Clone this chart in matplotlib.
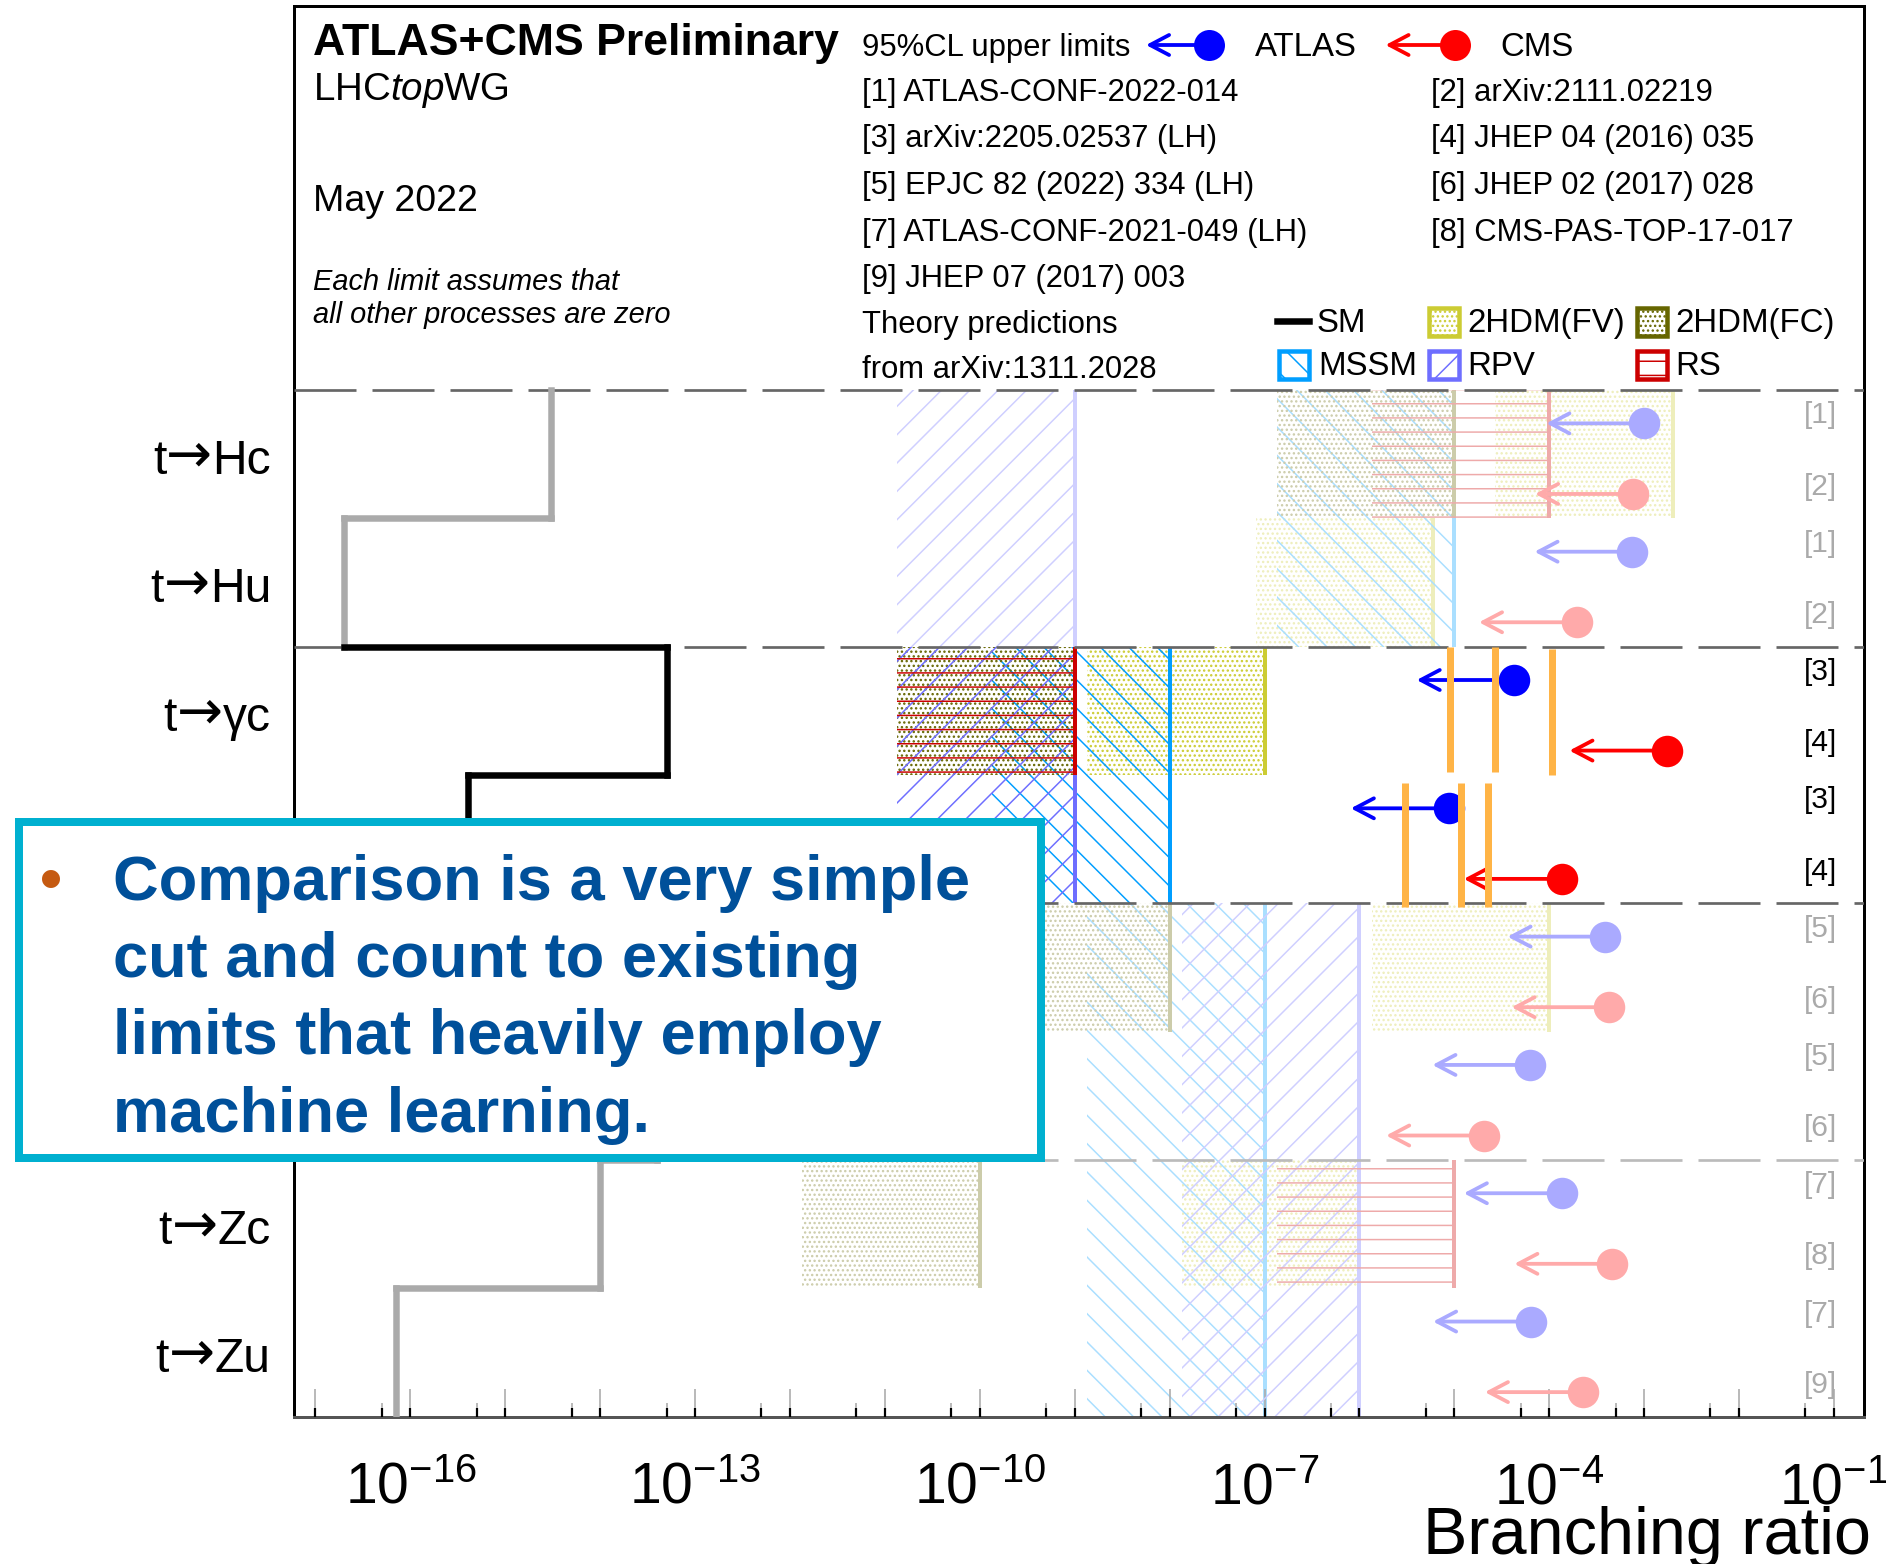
import numpy as np
import matplotlib
matplotlib.use("Agg")
import matplotlib.pyplot as plt
from matplotlib.patches import Rectangle, FancyArrowPatch, ArrowStyle
from matplotlib.lines import Line2D
from matplotlib.colors import to_rgb

# ---------------- data ----------------
processes = ["t→Hc", "t→Hu", "t→γc", "t→γu", "t→gc", "t→gu", "t→Zc", "t→Zu"]
highlighted = [False, False, True, True, False, False, False, False]
# labels of t->gamma u, t->gc, t->gu lie under the callout box in the reference
label_visible = [True, True, True, False, False, False, True, True]
sm_br = [3e-15, 2e-17, 5e-14, 4e-16, 5e-12, 4e-14, 1e-14, 7e-17]

atlas_limit = [1.0e-3, 7.5e-4, 4.3e-5, 8.7e-6, 3.9e-4, 6.3e-5, 1.35e-4, 6.4e-5]
cms_limit = [7.6e-4, 1.95e-4, 1.75e-3, 1.35e-4, 4.3e-4, 2.05e-5, 4.6e-4, 2.25e-4]
atlas_ref = ["[1]", "[1]", "[3]", "[3]", "[5]", "[5]", "[7]", "[7]"]
cms_ref = ["[2]", "[2]", "[4]", "[4]", "[6]", "[6]", "[8]", "[9]"]

# theory predictions (arXiv:1311.2028): first row, number of rows, upper BR
fv_row, fv_nrow, fv_br = [0, 1, 2, 4, 6], [1, 1, 1, 1, 1], [2e-3, 6e-6, 1e-7, 1e-4, 1e-6]
fc_row, fc_nrow, fc_br = [0, 2, 4, 6], [1, 1, 1, 1], [1e-5, 1e-9, 1e-8, 1e-10]
mssm_row, mssm_nrow, mssm_br = [0, 2, 4, 6], [2, 2, 2, 2], [1e-5, 1e-8, 1e-7, 1e-7]
rpv_row, rpv_nrow, rpv_br = [0, 2, 4, 6], [2, 2, 2, 2], [1e-9, 1e-9, 1e-6, 1e-6]
rs_row, rs_nrow, rs_br = [0, 2, 4, 6], [1, 1, 1, 1], [1e-4, 1e-9, 1e-10, 1e-5]

# overlaid (orange) lines in the t->gamma q rows
orange_row = [2, 2, 2, 3, 3, 3]
orange_br = [9.1e-6, 2.7e-5, 1.06e-4, 3.0e-6, 1.18e-5, 2.25e-5]
orange_span = [(0.0, 0.98), (0.0, 0.98), (0.02, 1.0), (0.06, 1.03), (0.06, 1.03), (0.06, 1.03)]

tick_exponents = list(range(-17, 0))
minor_exponents = list(range(-17, -1))
label_exponents = [-16, -13, -10, -7, -4, -1]

references_left = ["[1] ATLAS-CONF-2022-014", "[3] arXiv:2205.02537 (LH)",
                   "[5] EPJC 82 (2022) 334 (LH)", "[7] ATLAS-CONF-2021-049 (LH)",
                   "[9] JHEP 07 (2017) 003"]
references_right = ["[2] arXiv:2111.02219", "[4] JHEP 04 (2016) 035",
                    "[6] JHEP 02 (2017) 028", "[8] CMS-PAS-TOP-17-017"]
callout_lines = ["Comparison is a very simple", "cut and count to existing",
                 "limits that heavily employ", "machine learning."]

# ---------------- style ----------------
W, H = 1886, 1565
DPI = 85


def P(px):
    return px * 72.0 / DPI


plt.rcParams['font.family'] = ['Liberation Sans', 'DejaVu Sans']
plt.rcParams['mathtext.fontset'] = 'custom'
plt.rcParams['mathtext.rm'] = 'Liberation Sans'
plt.rcParams['mathtext.it'] = 'Liberation Sans:italic'
plt.rcParams['mathtext.bf'] = 'Liberation Sans:bold'
plt.rcParams['hatch.linewidth'] = P(1.5)

C_FV, C_FC, C_MSSM, C_RPV, C_RS = '#CCCC33', '#666600', '#009EFF', '#6E6EFF', '#CC0000'
C_ATLAS, C_CMS = '#0000FF', '#FF0000'
C_ORANGE = '#FFB446'


def fade(c, on):
    if on:
        return c
    r = np.array(to_rgb(c))
    return tuple(1 - (1 - r) / 3.0)


fig = plt.figure(figsize=(W / DPI, H / DPI), dpi=DPI)
ax = fig.add_axes([294 / W, 1 - 1417.5 / H, (1864 - 294) / W, (1417.5 - 7) / H])
ax.set_xscale('log')
ax.set_xlim(10 ** -17.2265, 10 ** -0.683)
ax.set_ylim(8, -2.993)
ax.set_yticks([])

BOX_DECADES = 1.87
ARROW_DECADES = 1.03


def draw_model(rows, nrows, brs, color, hatch, z):
    for r, n, up in zip(rows, nrows, brs):
        c = fade(color, highlighted[r])
        lo = up / 10 ** BOX_DECADES
        ax.add_patch(Rectangle((lo, r), up - lo, n, facecolor='none', edgecolor=c,
                               lw=0, hatch=hatch, zorder=z))
        ax.plot([up, up], [r, r + n], color=c, lw=P(4), solid_capstyle='butt', zorder=z + 0.1)


draw_model(fv_row, fv_nrow, fv_br, C_FV, '...', 1.0)
draw_model(mssm_row, mssm_nrow, mssm_br, C_MSSM, '\\', 1.2)
draw_model(fc_row, fc_nrow, fc_br, C_FC, '...', 1.4)
draw_model(rpv_row, rpv_nrow, rpv_br, C_RPV, '/', 1.6)
draw_model(rs_row, rs_nrow, rs_br, C_RS, '-', 1.8)

# separators
for yb, col in zip([0, 2, 4, 6], ['#666666', '#666666', '#666666', '#BBBBBB']):
    ax.axhline(yb, color=col, lw=P(2.7), ls=(0, (62 / 2.7, 16 / 2.7)), zorder=3)

# SM step line
for i, v in enumerate(sm_br):
    c = 'black' if highlighted[i] else '#AAAAAA'
    ax.plot([v, v], [i, i + 1], color=c, lw=P(6.5), solid_capstyle='projecting', zorder=4)
    if i + 1 < len(sm_br):
        c2 = 'black' if highlighted[i + 1] else '#AAAAAA'
        ax.plot([v, sm_br[i + 1]], [i + 1, i + 1], color=c2, lw=P(6.5),
                solid_capstyle='projecting', zorder=4)

# limits
arrow_style = ArrowStyle('->', head_length=P(19), head_width=P(10))


def limit(val, y, color):
    tip = val / 10 ** ARROW_DECADES
    ax.add_patch(FancyArrowPatch((val, y), (tip, y), arrowstyle=arrow_style, mutation_scale=1,
                                 lw=P(3.8), color=color, shrinkA=0, shrinkB=0, zorder=6))
    ax.plot([val], [y], 'o', ms=P(31.5), color=color, mec=color, mew=0, zorder=7)


for i in range(len(processes)):
    on = highlighted[i]
    limit(atlas_limit[i], i + 0.26, fade(C_ATLAS, on))
    limit(cms_limit[i], i + 0.81, fade(C_CMS, on))
    lc = 'black' if on else '#AAAAAA'
    for ref, dy in ((atlas_ref[i], 0.19), (cms_ref[i], 0.745)):
        ax.annotate(ref, xy=(1, i + dy), xycoords=('axes fraction', 'data'),
                    xytext=(P(-27), 0), textcoords='offset points', ha='right', va='center',
                    fontsize=P(30), color=lc)

for r, v, (t0, t1) in zip(orange_row, orange_br, orange_span):
    ax.plot([v, v], [r + t0, r + t1], color=C_ORANGE, lw=P(7), solid_capstyle='butt', zorder=8)

# axes / ticks
for s in ax.spines.values():
    s.set_linewidth(P(3))
    s.set_color('black')
ax.spines['bottom'].set_color('#555555')
ax.set_xticks([10.0 ** e for e in tick_exponents])
ax.set_xticklabels([r'$\mathregular{10^{%d}}$' % e if e in label_exponents else ''
                    for e in tick_exponents])
ax.set_xticks([5 * 10.0 ** e for e in minor_exponents], minor=True)
ax.tick_params(axis='x', which='major', direction='in', length=P(28), width=P(1.6),
               color='#AAAAAA', labelsize=P(57), pad=P(44), top=False)
ax.tick_params(axis='x', which='minor', direction='in', length=P(14), width=P(1.6),
               color='#AAAAAA', labelbottom=False, top=False)
ax.tick_params(axis='y', which='both', left=False, right=False)

ax2 = ax.twiny()
ax2.set_xscale('log')
ax2.set_xlim(ax.get_xlim())
ax2.xaxis.set_ticks_position('bottom')
ax2.set_xticks([10.0 ** e for e in tick_exponents])
ax2.set_xticks([5 * 10.0 ** e for e in minor_exponents], minor=True)
ax2.tick_params(axis='x', which='both', direction='in', length=P(9), width=P(2.2), color='black',
                labelbottom=False, labeltop=False, top=False, bottom=True)
for s in ax2.spines.values():
    s.set_visible(False)

# process labels: "t", arrow, final state, packed right-to-left
renderer = fig.canvas.get_renderer()
for i, name in enumerate(processes):
    if not label_visible[i]:
        continue
    head, tail = name.split("→")
    x_off = -23.0
    for piece, fam, size, dy in ((tail, None, 48, -19), ("→", ['DejaVu Sans'], 55, -16.5),
                                 (head, None, 48, -19)):
        kw = {'family': fam} if fam else {}
        t = ax.annotate(piece, xy=(0, i + 0.5), xycoords=('axes fraction', 'data'),
                        xytext=(P(x_off), P(dy)), textcoords='offset points', ha='right',
                        va='baseline', fontsize=P(size), color='black', **kw)
        x_off -= t.get_window_extent(renderer).width


# ---------------- header (figure pixel coordinates) ----------------
def fx(x):
    return x / W


def fy(y):
    return 1 - y / H


def ftext(x, y, s, size_px, **kw):
    kw.setdefault('ha', 'left')
    kw.setdefault('va', 'baseline')
    return fig.text(fx(x), fy(y), s, fontsize=P(size_px), **kw)


ftext(313, 55, "ATLAS+CMS Preliminary", 44.6, fontweight='bold')
ftext(313, 100, r"LHC$\mathit{top}$WG", 38.5)
ftext(313, 211, "May 2022", 37.5)
ftext(313, 290, "Each limit assumes that", 29, style='italic')
ftext(313, 323, "all other processes are zero", 29, style='italic')

ftext(861.5, 56, "95%CL upper limits", 31)
for cx, tip, col, lab, lx in ((1209, 1146, C_ATLAS, "ATLAS", 1255),
                              (1454.5, 1385.5, C_CMS, "CMS", 1500)):
    fig.add_artist(FancyArrowPatch((fx(cx), fy(46)), (fx(tip), fy(46)), transform=fig.transFigure,
                                   arrowstyle=arrow_style, mutation_scale=1, lw=P(3.8),
                                   color=col, shrinkA=0, shrinkB=0))
    fig.add_artist(Line2D([fx(cx)], [fy(46)], transform=fig.transFigure, marker='o',
                          ms=P(31), color=col, mew=0, ls='none'))
    ftext(lx, 56, lab, 33)

for k, s in enumerate(references_left):
    ftext(861.5, 101 + 46.5 * k, s, 31)
for k, s in enumerate(references_right):
    ftext(1431, 101 + 46.5 * k, s, 31)
ftext(861.5, 333, "Theory predictions", 31)
ftext(861.5, 378, "from arXiv:1311.2028", 31)

# theory legend
fig.add_artist(Line2D([fx(1277), fx(1309)], [fy(321.7), fy(321.7)], transform=fig.transFigure,
                      color='black', lw=P(6.5)))
ftext(1317, 331.7, "SM", 33)
legend_items = [(1426, 306, C_FV, '...', "2HDM(FV)"), (1634, 306, C_FC, '...', "2HDM(FC)"),
                (1276.3, 349.3, C_MSSM, '\\', "MSSM"), (1426, 349.3, C_RPV, '/', "RPV"),
                (1634, 349.3, C_RS, '-', "RS")]
for x0, y0, col, hat, lab in legend_items:
    fig.add_artist(Rectangle((fx(x0 + 2.5), fy(y0 + 31)), 30 / W, 28.5 / H,
                             transform=fig.transFigure, facecolor='white', edgecolor=col,
                             lw=P(4.5), hatch=hat))
    ftext(x0 + 41.5, y0 + 25.7, lab, 33)

# ---------------- callout box ----------------
fig.add_artist(Rectangle((fx(19.4), fy(1159)), (1041 - 19.4) / W, (1159 - 823) / H,
                         transform=fig.transFigure, facecolor='white', edgecolor='#00B0D0',
                         lw=P(8), zorder=10))
ftext(40, 900, "•", 63, color='#C55A11', fontweight='bold', zorder=11)
for k, s in enumerate(callout_lines):
    ftext(113, 900 + 77.2 * k, s, 63.3, color='#00509A', fontweight='bold', zorder=11)

# x-axis title
ftext(1871, 1554, "Branching ratio", 66.5, ha='right')

fig.savefig("out.png", dpi=DPI)
